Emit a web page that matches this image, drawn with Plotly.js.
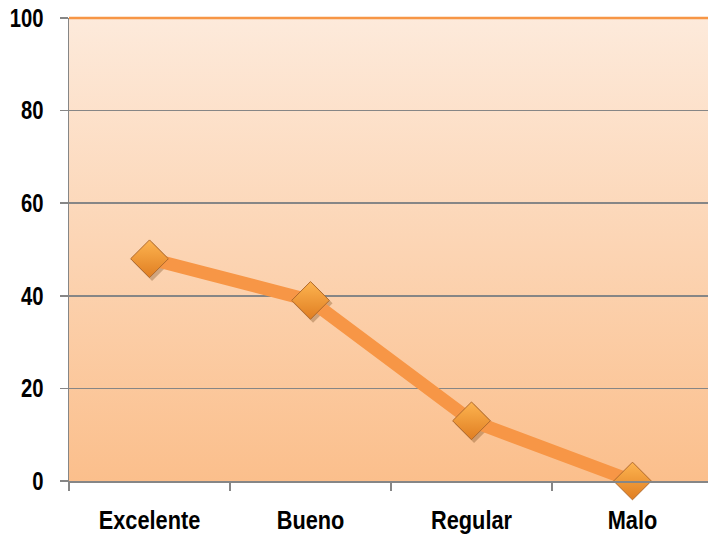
<!DOCTYPE html>
<html>
<head>
<meta charset="utf-8">
<script src="https://cdn.plot.ly/plotly-3.0.1.min.js"></script>
<style>html,body{margin:0;padding:0;background:#fff;}#chart{width:708px;height:537px;}</style>
</head>
<body>
<div id="chart"></div>
<script>
var categories = ["Excelente", "Bueno", "Regular", "Malo"];
var values = [48, 39, 13, 0];
var yTicks = [0, 20, 40, 60, 80, 100];

var svg = '<svg xmlns="http://www.w3.org/2000/svg" width="100" height="100" preserveAspectRatio="none">' +
  '<defs><linearGradient id="g" x1="0" y1="0" x2="0" y2="1">' +
  '<stop offset="0" stop-color="#FDEADB"/><stop offset="1" stop-color="#FBBF8C"/>' +
  '</linearGradient></defs><rect width="100" height="100" fill="url(#g)"/></svg>';
var bg = 'data:image/svg+xml;base64,' + btoa(svg);

var fam = '"Liberation Sans", Arial, sans-serif';
var xr = [-0.5, 3.469];
var yr = [0, 100];

var data = [
  { // soft drop shadow of the markers, on hidden base axes with a small range offset
    x: categories, y: values, type: 'scatter', mode: 'markers',
    xaxis: 'x', yaxis: 'y', cliponaxis: false,
    marker: {symbol: 'diamond', size: 30, color: 'rgba(90,45,0,0.28)', line: {width: 0}},
    hoverinfo: 'skip'
  },
  {
    x: categories, y: values, type: 'scatter', mode: 'lines+markers',
    xaxis: 'x2', yaxis: 'y2', cliponaxis: false,
    line: {color: '#F79646', width: 13},
    marker: {
      symbol: 'diamond', size: 29, color: '#FDB450',
      gradient: {type: 'vertical', color: '#E07E22'},
      line: {color: '#B0692C', width: 1}
    },
    hoverinfo: 'skip'
  }
];

var tickFont = {family: fam, size: 25, color: '#000', weight: 'bold'};

var layout = {
  width: 708, height: 537,
  margin: {l: 69, r: 0, t: 18, b: 56},
  paper_bgcolor: '#ffffff',
  plot_bgcolor: 'rgba(0,0,0,0)',
  showlegend: false,
  images: [{source: bg, xref: 'paper', yref: 'paper', x: 0, y: 1, sizex: 1, sizey: 1,
            sizing: 'stretch', xanchor: 'left', yanchor: 'top', layer: 'below'}],
  xaxis: {
    type: 'category', categoryarray: categories,
    range: [xr[0] - 0.016, xr[1] - 0.016],
    showticklabels: false, ticks: '', showline: false, showgrid: false, zeroline: false
  },
  yaxis: {
    range: [yr[0] + 0.6, yr[1] + 0.6],
    showticklabels: false, ticks: '', showline: false, showgrid: false, zeroline: false
  },
  xaxis2: {
    type: 'category', categoryarray: categories,
    overlaying: 'x', side: 'bottom', anchor: 'y2',
    range: xr,
    tickson: 'boundaries',
    ticks: 'outside', ticklen: 8, tickcolor: '#868686', tickwidth: 1.5,
    showline: true, linecolor: '#868686', linewidth: 1.5,
    showgrid: false, zeroline: false,
    tickfont: tickFont,
    ticklabelstandoff: 17
  },
  yaxis2: {
    overlaying: 'y', side: 'left', anchor: 'x2',
    range: yr,
    tickvals: yTicks,
    ticktext: yTicks.map(String),
    ticks: 'outside', ticklen: 8, tickcolor: '#868686', tickwidth: 1.5,
    showline: true, linecolor: '#868686', linewidth: 1.5,
    showgrid: true, gridcolor: '#868686', gridwidth: 1.5,
    zeroline: false,
    tickfont: tickFont,
    ticklabelstandoff: 11
  },
  shapes: [{type: 'line', xref: 'paper', yref: 'paper', x0: 0, x1: 1, y0: 1, y1: 1,
            line: {color: '#F79646', width: 2.5}}]
};

Plotly.newPlot('chart', data, layout, {displayModeBar: false, staticPlot: true}).then(function (gd) {
  // narrow the bold labels horizontally (condensed look of the reference)
  gd.querySelectorAll('.x2tick text, .y2tick text, .xtick text, .ytick text').forEach(function (t) {
    var b = t.getBBox();
    var isY = t.closest('.y2tick, .ytick') !== null;
    var sx = isY ? 0.81 : 0.87;
    var cx = isY ? (b.x + b.width) : (b.x + b.width / 2);
    var cy = b.y + b.height / 2;
    var tr = t.getAttribute('transform') || '';
    t.setAttribute('transform', tr + ' translate(' + cx + ',' + cy + ') scale(' + sx + ',1) translate(' + (-cx) + ',' + (-cy) + ')');
  });
});
</script>
</body>
</html>
